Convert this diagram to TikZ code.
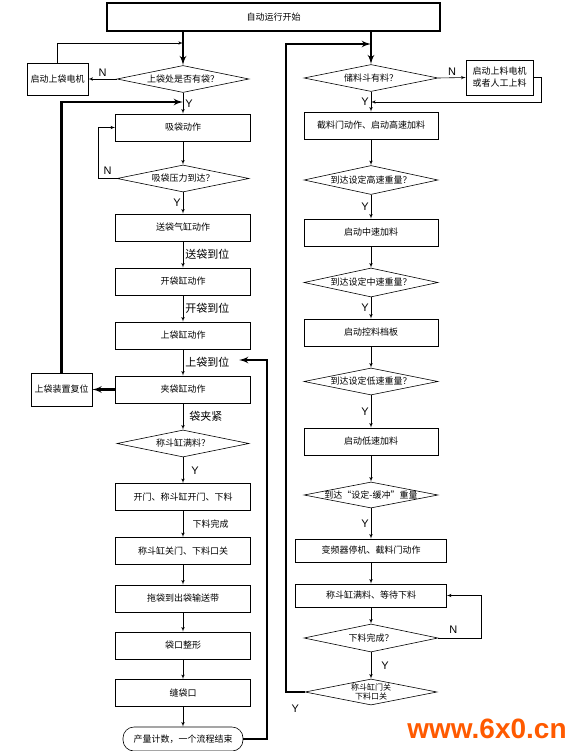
\documentclass[tikz,border=0pt]{standalone}
\usepackage{fontspec}
\setmainfont{Noto Sans CJK SC}
\newfontfamily\latinfont{Liberation Sans}
\usetikzlibrary{shapes.geometric, positioning, arrows}
\definecolor{markorange}{HTML}{FF5A00}

\tikzset{
  box/.style={draw, rectangle, minimum width=135pt, minimum height=27pt, inner sep=0pt, font=\fontsize{9}{10}\selectfont},
  decision/.style={draw, diamond, aspect=5, minimum width=132pt, minimum height=27pt, inner sep=0pt, font=\fontsize{9}{10}\selectfont},
  sidebox/.style={draw, rectangle, minimum width=61pt, minimum height=32pt, inner sep=0pt, align=center, font=\fontsize{9}{12}\selectfont},
  yn/.style={font=\latinfont\fontsize{11}{12}\selectfont, inner sep=2pt},
  tag/.style={font=\fontsize{11}{12}\selectfont, inner sep=2pt},
  heavy/.style={line width=2.2pt},
}

\begin{document}
\begin{tikzpicture}[->,>=latex',semithick,x=1pt,y=1pt]
    \useasboundingbox (0,0) rectangle (580,-751);

    \node[draw, rectangle, line width=1.6pt, minimum width=333pt, minimum height=28pt, font=\fontsize{9}{10}\selectfont] (start) at (273.5,-17) {自动运行开始};

    % left column
    \node[decision] (bag) at (183,-79) {上袋处是否有袋？};
    \node[box, below of=bag, node distance=48.5pt] (suck) {吸袋动作};
    \node[decision, below of=suck, node distance=51pt] (press) {吸袋压力到达？};
    \node[box, below of=press, node distance=49pt] (feed) {送袋气缸动作};
    \node[box, below of=feed, node distance=54pt] (open) {开袋缸动作};
    \node[box, below of=open, node distance=54pt] (load) {上袋缸动作};
    \node[box, below of=load, node distance=54pt] (clamp) {夹袋缸动作};
    \node[decision, below of=clamp, node distance=54pt] (full) {称斗缸满料？};
    \node[box, below of=full, node distance=53.5pt] (drop) {开门、称斗缸开门、下料};
    \node[box, below of=drop, node distance=54pt] (close) {称斗缸关门、下料口关};
    \node[box, below of=close, node distance=47.5pt] (drag) {拖袋到出袋输送带};
    \node[box, below of=drag, node distance=47pt] (shape) {袋口整形};
    \node[box, below of=shape, node distance=47.5pt] (sew) {缝袋口};
    \node[box, rounded corners=11pt, minimum width=120pt, minimum height=24pt, below of=sew, node distance=46pt] (done) {产量计数，一个流程结束};

    \node[sidebox] (motor) at (57.5,-79) {启动上袋电机};
    \node[sidebox, minimum height=33pt] (reset) at (61.5,-389.5) {上袋装置复位};

    % right column
    \node[decision, minimum width=134pt] (hop) at (371,-78) {储料斗有料？};
    \node[box, minimum width=134pt, below of=hop, node distance=47.5pt] (gate) {截料门动作、启动高速加料};
    \node[decision, minimum width=134pt, minimum height=29pt, below of=gate, node distance=54.5pt] (hiq) {到达设定高速重量？};
    \node[box, minimum width=134pt, below of=hiq, node distance=52.5pt] (mid) {启动中速加料};
    \node[decision, minimum width=134pt, minimum height=29pt, below of=mid, node distance=50pt] (midq) {到达设定中速重量？};
    \node[box, minimum width=134pt, below of=midq, node distance=50pt] (plate) {启动控料档板};
    \node[decision, minimum width=134pt, below of=plate, node distance=49pt] (lowq) {到达设定低速重量？};
    \node[box, minimum width=134pt, below of=lowq, node distance=60pt] (low) {启动低速加料};
    \node[decision, minimum width=134pt, minimum height=26pt, below of=low, node distance=53.5pt] (bufq) {\makebox[0pt]{到达“设定-缓冲”重量}};
    \node[box, minimum width=151pt, minimum height=23pt, below of=bufq, node distance=55.5pt] (stop) {变频器停机、截料门动作};
    \node[box, minimum width=151pt, minimum height=23pt, below of=stop, node distance=45pt] (wait) {称斗缸满料、等待下料};
    \node[decision, minimum width=134pt, minimum height=28pt, below of=wait, node distance=42.5pt] (dropq) {下料完成？};
    \node[decision, minimum height=26pt, align=center, font=\fontsize{8}{9}\selectfont, below of=dropq, node distance=54pt] (shut) {称斗缸门关\\下料口关};

    \node[sidebox, minimum width=67pt, minimum height=35pt] (feeder) at (499.5,-77.5) {启动上料电机\\或者人工上料};

    \node[font=\latinfont\bfseries\fontsize{28}{30}\selectfont, text=markorange] (mark) at (487,-729) {www.6x0.cn};

    \coordinate (inL) at (183,-43);
    \coordinate (inR) at (183,-102);
    \coordinate (turnL) at (267,-360);
    \coordinate (back) at (239,-360);
    \coordinate (inH) at (371,-102);
    \coordinate (inT) at (371,-44);

    % left connectors
    \draw[heavy] (bag.north |- start.south) -- (bag.north);
    \draw (bag.west) -- node[above, yn] {N} (motor.east);
    \draw (motor.north) |- (inL);
    \draw (bag.south) -- node[right, yn] {Y} (suck.north);
    \draw[heavy] (reset.north) |- (inR);
    \draw (suck) edge (press);
    \draw (press.west) -- node[above, yn, yshift=2pt] {N} ++(-18,0) |- (suck.west);
    \draw (press.south) -- node[left, yn] {Y} (feed.north);
    \draw (feed.south) -- node[right, tag] {送袋到位} (open.north);
    \draw (open.south) -- node[right, tag] {开袋到位} (load.north);
    \draw (load.south) -- node[right, tag] {上袋到位} (clamp.north);
    \draw[heavy] (clamp.west) -- (reset.east);
    \draw (clamp.south) -- node[right, tag, xshift=4pt] {袋夹紧} (full.north);
    \draw (full.south) -- node[right, yn, xshift=6pt] {Y} (drop.north);
    \draw (drop.south) -- node[right, xshift=6pt, font=\fontsize{9}{10}\selectfont] {下料完成} (close.north);
    \draw
            (close) edge (drag)
            (drag) edge (shape)
            (shape) edge (sew)
            (sew) edge (done)
            ;
    \draw[heavy] (done.east) -| (turnL) -- (back);

    % right connectors
    \draw[heavy] (hop.north |- start.south) -- (hop.north);
    \draw (hop.east) -- node[above, yn] {N} (feeder.west);
    \draw (feeder.east) -- ++(8,0) |- (inH);
    \draw (hop.south) -- node[left, yn] {Y} (gate.north);
    \draw (gate) edge (hiq);
    \draw (hiq.south) -- node[left, yn] {Y} (mid.north);
    \draw (mid) edge (midq);
    \draw (midq.south) -- node[left, yn] {Y} (plate.north);
    \draw (plate) edge (lowq);
    \draw (lowq.south) -- node[left, yn] {Y} (low.north);
    \draw (low) edge (bufq);
    \draw (bufq.south) -- node[left, yn] {Y} (stop.north);
    \draw (stop) edge (wait);
    \draw (wait) edge (dropq);
    \draw (dropq.east) -- node[above, yn, pos=0.35, yshift=2pt] {N} ++(43,0) |- (wait.east);
    \draw (dropq.south) -- node[right, yn, xshift=8pt] {Y} (shut.north);
    \draw[heavy] (shut.west) -- node[below, yn, yshift=-10pt] {Y} ++(-19,0) |- (inT);
\end{tikzpicture}
\end{document}
